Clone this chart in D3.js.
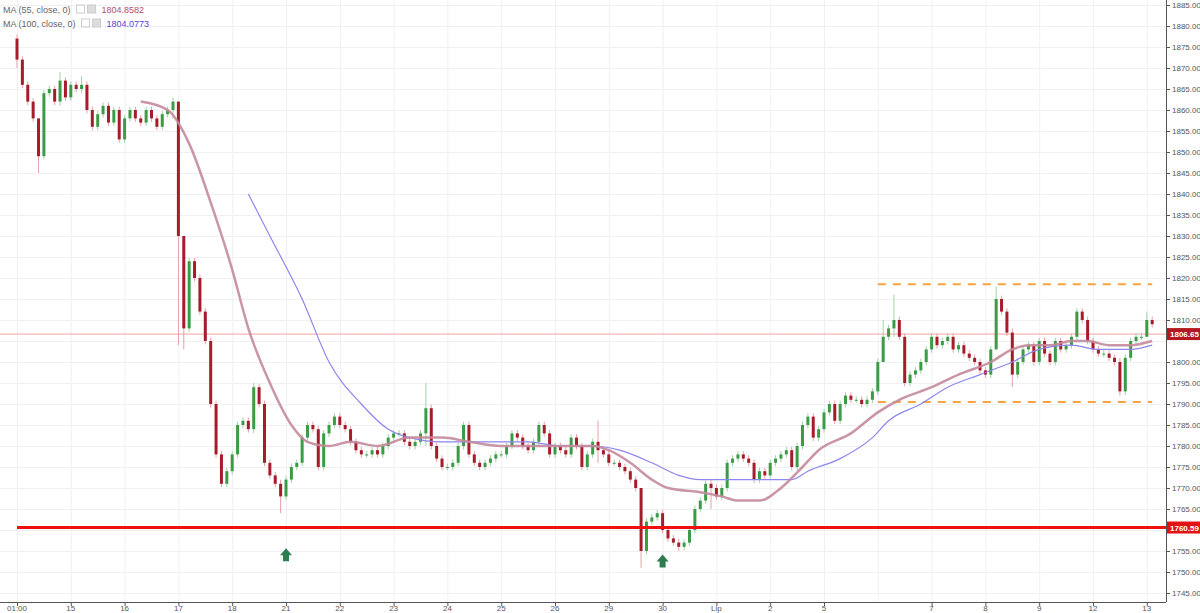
<!DOCTYPE html>
<html><head><meta charset="utf-8">
<script src="https://cdn.jsdelivr.net/npm/d3@7"></script>
<style>body{margin:0;background:#fff;font-family:"Liberation Sans",Arial,sans-serif}</style>
</head><body>
<script>
// closes, 10 candles per trading day
var closes = [
 1872,1866,1862,1858,1849,1864,1865,1862,1867,1863,
 1866,1865,1866,1860,1856,1859,1861,1857,1860,1853,
 1858,1860,1858,1857,1860,1858,1856,1859,1860,1862,
 1830,1808,1824,1820,1812,1805,1790,1778,1771,1774,
 1778,1785,1786,1784,1794,1790,1776,1773,1771,1768,
 1772,1775,1776,1782,1785,1784,1775,1783,1785,1787,
 1785,1784,1781,1779,1778,1778,1779,1778,1780,1782,
 1783,1783,1781,1780,1781,1783,1789,1780,1777,1775,
 1775,1776,1780,1785,1778,1776,1775,1776,1777,1778,
 1778,1780,1783,1782,1780,1779,1781,1785,1783,1778,
 1780,1779,1778,1782,1780,1775,1778,1781,1779,1778,
 1776,1776,1775,1774,1772,1770,1755,1762,1763,1764,
 1760,1758,1757,1756,1757,1760,1765,1767,1771,1770,
 1768,1770,1776,1777,1778,1777,1776,1772,1774,1773,
 1776,1777,1778,1779,1775,1780,1785,1787,1782,1784,
 1788,1790,1786,1790,1792,1791,1791,1790,1791,1793,
 1800,1806,1808,1810,1806,1795,1797,1798,1800,1803,
 1806,1804,1805,1806,1803,1804,1802,1801,1800,1798,
 1797,1803,1815,1812,1807,1797,1800,1803,1804,1800,
 1805,1802,1800,1805,1803,1804,1806,1812,1810,1805,
 1803,1802,1802,1801,1800,1793,1801,1805,1806,1806,
 1810,1809];
var firstOpen = 1877;
// notable wick extremes [index, high, low]
var wicks = [[0,1878,1870],[4,1851,1845],[8,1869,1861],[12,1868,1864],[29,1863,1858],[30,1862,1804],[31,1816,1803],
 [44,1795,1783],[49,1772,1764],[76,1795,1780],[108,1786,1776],[116,1763,1751],[123,1758,1755],[129,1772,1765],
 [163,1816,1806],[161,1810,1805],[182,1818,1803],[185,1808,1794],[205,1801,1792],[210,1812,1806]];
var ma55 = [[23,1862],[28,1860],[32,1852],[36,1838],[40,1822],[43,1808],[47,1795],[51,1785],[54,1781],[58,1780],[62,1781],[67,1780],[73,1782],[79,1782],[84,1781],[90,1780],[95,1780],[101,1780],[107,1780],[110,1779],[114,1776],[118,1772],[121,1770],[127,1769],[131,1768],[134,1767],[138,1767],[142,1770],[146,1775],[149,1779],[155,1783],[160,1788],[164,1791],[170,1794],[175,1797],[181,1800],[185,1803],[188,1804],[192,1804],[196,1805],[199,1805],[203,1804],[207,1804],[211,1805]];
var ma100 = [[43,1840],[47,1830],[53,1815],[58,1800],[64,1790],[69,1784],[73,1782],[79,1781],[84,1781],[90,1781],[95,1781],[101,1780],[107,1780],[112,1779],[118,1776],[123,1773],[127,1772],[133,1772],[138,1772],[144,1772],[147,1774],[153,1777],[159,1782],[162,1786],[168,1790],[173,1794],[179,1797],[185,1800],[190,1803],[196,1804],[201,1803],[207,1803],[211,1804]];
var dayLabels = ["01:00","15","16","17","18","21","22","23","24","25","26","29","30","Lip","2","5","6","7","8","9","12","13"];
var hiddenLabels = ["6"];
var priceTicks = d3.range(1745, 1886, 5);
var supportLevel = 1760.59, lastPrice = 1806.65;
var rangeTop = 1818.5, rangeBottom = 1790.5, rangeStart = 160;
var arrowsAt = [[50,1754],[120,1752.5]];

var W = 1200, H = 613, axisX = 1166, axisY = 602;
var svg = d3.select("body").append("svg").attr("width", W).attr("height", H);
var y = d3.scaleLinear().domain([1745, 1885]).range([593, 5]);
var x = d3.scaleLinear().domain([0, 10]).range([17, 70.8]);

var candles = closes.map(function(c, i) {
	var o = i === 0 ? firstOpen : closes[i - 1];
	return {i: i, o: o, c: c, h: Math.max(o, c) + 0.8, l: Math.min(o, c) - 0.8};
});
wicks.forEach(function(w) { candles[w[0]].h = w[1]; candles[w[0]].l = w[2]; });

// grid
svg.append("g").selectAll("line").data(priceTicks).enter().append("line")
	.attr("x1", 0).attr("x2", axisX).attr("y1", function(d) { return y(d) + .5; }).attr("y2", function(d) { return y(d) + .5; })
	.attr("stroke", "#eef0f4");
svg.append("g").selectAll("line").data(dayLabels).enter().append("line")
	.attr("x1", function(d, i) { return x(i * 10) + .5; }).attr("x2", function(d, i) { return x(i * 10) + .5; })
	.attr("y1", 0).attr("y2", axisY).attr("stroke", "#eef0f4");

// range lines
[rangeTop, rangeBottom].forEach(function(v) {
	svg.append("line").attr("x1", x(rangeStart)).attr("x2", x(211)).attr("y1", y(v)).attr("y2", y(v))
		.attr("stroke", "#f7a440").attr("stroke-width", 2).attr("stroke-dasharray", "8,7");
});
// last price line
svg.append("line").attr("x1", 0).attr("x2", axisX).attr("y1", y(lastPrice)).attr("y2", y(lastPrice))
	.attr("stroke", "#f2a3a3").attr("stroke-width", 1);

// candles
var g = svg.append("g");
g.selectAll("line").data(candles).enter().append("line")
	.attr("x1", function(d) { return x(d.i); }).attr("x2", function(d) { return x(d.i); })
	.attr("y1", function(d) { return y(d.h); }).attr("y2", function(d) { return y(d.l); })
	.attr("stroke", function(d) { return d.c >= d.o ? "#9fd3a4" : "#e6a0a6"; });
g.selectAll("rect").data(candles).enter().append("rect")
	.attr("x", function(d) { return x(d.i) - 1.5; }).attr("width", 3)
	.attr("y", function(d) { return y(Math.max(d.o, d.c)); })
	.attr("height", function(d) { return Math.max(1, Math.abs(y(d.o) - y(d.c))); })
	.attr("fill", function(d) { return d.c >= d.o ? "#3c9b46" : "#a61c2a"; });

// moving averages
var line = d3.line().x(function(d) { return x(d[0]); }).y(function(d) { return y(d[1]); }).curve(d3.curveMonotoneX);
svg.append("path").datum(ma100).attr("d", line).attr("fill", "none").attr("stroke", "#8c86ee").attr("stroke-width", 1.2);
svg.append("path").datum(ma55).attr("d", line).attr("fill", "none").attr("stroke", "#c48a9c").attr("stroke-width", 2.5).attr("opacity", .9);

// support line
svg.append("line").attr("x1", 17).attr("x2", axisX).attr("y1", y(supportLevel)).attr("y2", y(supportLevel))
	.attr("stroke", "#f01010").attr("stroke-width", 3);

// arrows
arrowsAt.forEach(function(a) {
	var cx = x(a[0]), cy = y(a[1]);
	svg.append("path").attr("fill", "#2e7d4f")
		.attr("d", "M" + cx + "," + (cy - 7) + "L" + (cx + 6) + "," + cy + "L" + (cx + 3) + "," + cy + "L" + (cx + 3) + "," + (cy + 6) +
			"L" + (cx - 3) + "," + (cy + 6) + "L" + (cx - 3) + "," + cy + "L" + (cx - 6) + "," + cy + "Z");
});

// axes
svg.append("rect").attr("x", axisX).attr("y", 0).attr("width", W - axisX).attr("height", H).attr("fill", "#fff");
svg.append("rect").attr("x", 0).attr("y", axisY).attr("width", axisX).attr("height", H - axisY).attr("fill", "#fff");
svg.append("line").attr("x1", axisX + .5).attr("x2", axisX + .5).attr("y1", 0).attr("y2", axisY).attr("stroke", "#555");
svg.append("line").attr("x1", 0).attr("x2", axisX).attr("y1", axisY + .5).attr("y2", axisY + .5).attr("stroke", "#555");
var ya = svg.append("g").attr("font-size", 8).attr("fill", "#555");
priceTicks.forEach(function(p) {
	if (Math.abs(p - lastPrice) < 2.5 || Math.abs(p - supportLevel) < 2.5) return;
	ya.append("line").attr("x1", axisX).attr("x2", axisX + 4).attr("y1", y(p) + .5).attr("y2", y(p) + .5).attr("stroke", "#555");
	ya.append("text").attr("x", axisX + 6).attr("y", y(p) + 3).text(p.toFixed(2));
});
dayLabels.forEach(function(l, i) {
	if (hiddenLabels.indexOf(l) >= 0) return;
	svg.append("line").attr("x1", x(i * 10) + .5).attr("x2", x(i * 10) + .5).attr("y1", axisY).attr("y2", axisY + 4).attr("stroke", "#555");
	svg.append("text").attr("x", x(i * 10)).attr("y", 611).attr("text-anchor", "middle")
		.attr("font-size", 8).attr("fill", "#555").text(l);
});
// price labels
[[supportLevel, "#e31313"], [lastPrice, "#b3181f"]].forEach(function(p) {
	svg.append("rect").attr("x", axisX + 1).attr("y", y(p[0]) - 6).attr("width", 33).attr("height", 12).attr("fill", p[1]);
	svg.append("text").attr("x", axisX + 4).attr("y", y(p[0]) + 3).attr("font-size", 8).attr("font-weight", "bold")
		.attr("fill", "#fff").text(p[0].toFixed(2));
});

// legend
[["MA (55, close, 0)", "1804.8582", "#b0506a", 13], ["MA (100, close, 0)", "1804.0773", "#5546d8", 27]].forEach(function(l) {
	var t = svg.append("text").attr("x", 3).attr("y", l[3]).attr("font-size", 9).attr("fill", "#666").text(l[0]);
	var bx = 3 + t.node().getComputedTextLength() + 6;
	svg.append("rect").attr("x", bx).attr("y", l[3] - 8).attr("width", 8).attr("height", 8).attr("fill", "none").attr("stroke", "#ccc");
	svg.append("rect").attr("x", bx + 11).attr("y", l[3] - 8).attr("width", 8).attr("height", 8).attr("fill", "#ddd").attr("stroke", "#ccc");
	svg.append("text").attr("x", bx + 25).attr("y", l[3]).attr("font-size", 9).attr("fill", l[2]).text(l[1]);
});
</script>
</body></html>
